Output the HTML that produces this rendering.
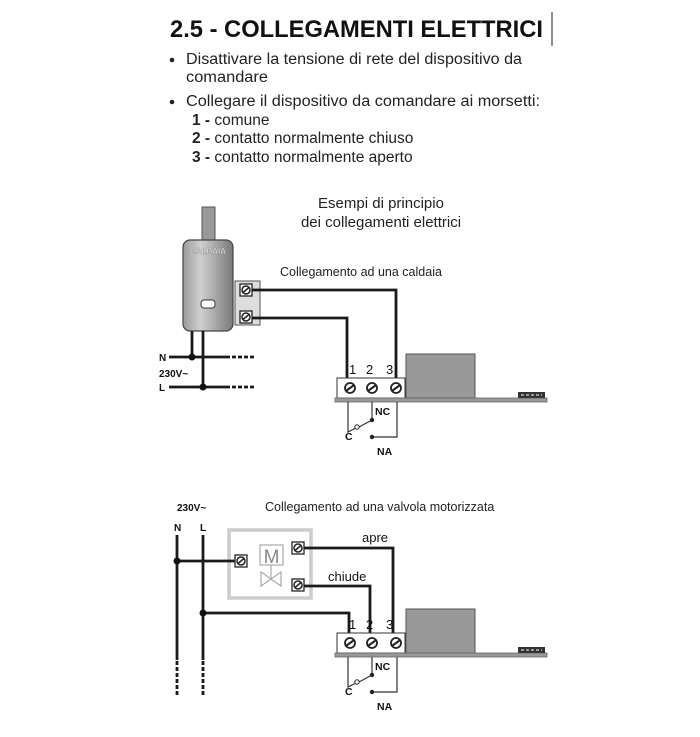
<!DOCTYPE html>
<html><head><meta charset="utf-8"><style>
html,body{margin:0;padding:0;background:#fff;}
svg{display:block;font-family:"Liberation Sans",Arial,sans-serif;}
</style></head><body>
<svg width="700" height="737" viewBox="0 0 700 737" xmlns="http://www.w3.org/2000/svg">
<defs>
<linearGradient id="boil" x1="0" x2="1" y1="0" y2="0">
<stop offset="0" stop-color="#9a9a9a"/><stop offset="0.35" stop-color="#d0d0d0"/><stop offset="1" stop-color="#7a7a7a"/>
</linearGradient>
<g id="scr"><rect x="-6" y="-6" width="12" height="12" fill="#fff" stroke="#222" stroke-width="1.3"/><circle r="4" fill="#fff" stroke="#222" stroke-width="1.5"/><line x1="-3" y1="2.5" x2="3" y2="-2.5" stroke="#222" stroke-width="1.5"/></g>
<g id="bscr"><circle r="5" fill="#fff" stroke="#222" stroke-width="1.8"/><line x1="-3.5" y1="2.5" x2="3.5" y2="-2.5" stroke="#222" stroke-width="2"/></g>
</defs>
<text x="170" y="37" font-size="24" font-weight="bold" fill="#111" textLength="373" lengthAdjust="spacingAndGlyphs">2.5 - COLLEGAMENTI ELETTRICI</text>
<line x1="552" y1="12" x2="552" y2="46" stroke="#444" stroke-width="1.2"/>
<g font-size="15.5" fill="#222">
<circle cx="172" cy="60" r="2.3" fill="#222"/>
<text x="186" y="64" textLength="336" lengthAdjust="spacingAndGlyphs">Disattivare la tensione di rete del dispositivo da</text>
<text x="186" y="82" textLength="82" lengthAdjust="spacingAndGlyphs">comandare</text>
<circle cx="172" cy="102" r="2.3" fill="#222"/>
<text x="186" y="106" textLength="354" lengthAdjust="spacingAndGlyphs">Collegare il dispositivo da comandare ai morsetti:</text>
<text x="192" y="125"><tspan font-weight="bold">1 -</tspan> comune</text>
<text x="192" y="143"><tspan font-weight="bold">2 -</tspan> contatto normalmente chiuso</text>
<text x="192" y="162"><tspan font-weight="bold">3 -</tspan> contatto normalmente aperto</text>
</g>
<text x="381" y="208" font-size="15" text-anchor="middle" fill="#222">Esempi di principio</text>
<text x="381" y="227" font-size="15" text-anchor="middle" fill="#222">dei collegamenti elettrici</text>
<text x="280" y="276" font-size="12.5" fill="#222">Collegamento ad una caldaia</text>

<rect x="202" y="207" width="13" height="38" fill="#999" stroke="#555"/>
<rect x="183" y="240" width="50" height="91" rx="7" fill="url(#boil)" stroke="#444" stroke-width="1.2"/>
<text x="208" y="254" font-size="8" font-weight="bold" text-anchor="middle" fill="#eee" stroke="#666" stroke-width="0.3">CALDAIA</text>
<rect x="201" y="300" width="14" height="8" rx="3" fill="#fff" stroke="#333"/>
<rect x="235" y="281" width="25" height="44" fill="#ddd" stroke="#555"/>
<use href="#scr" x="246" y="290"/><use href="#scr" x="246" y="317"/>
<g stroke="#1a1a1a" stroke-width="2.8" fill="none">
<polyline points="252,290 396,290 396,380"/>
<polyline points="252,318 347,318 347,380"/>
<line x1="192" y1="331" x2="192" y2="357"/>
<line x1="203" y1="331" x2="203" y2="387"/>
<line x1="169" y1="357" x2="230" y2="357"/>
<line x1="169" y1="387" x2="230" y2="387"/>
<line x1="232" y1="357" x2="254" y2="357" stroke-dasharray="4,2"/>
<line x1="232" y1="387" x2="254" y2="387" stroke-dasharray="4,2"/>
</g>
<circle cx="192" cy="357" r="3.5" fill="#111"/><circle cx="203" cy="387" r="3.5" fill="#111"/>
<g font-size="10" font-weight="bold" fill="#111">
<text x="159" y="361">N</text><text x="159" y="377">230V~</text><text x="159" y="391">L</text>
</g>

<g id="relay1">
<g font-size="13" fill="#111"><text x="349" y="374">1</text><text x="366" y="374">2</text><text x="386" y="374">3</text></g>
<rect x="337" y="378" width="68" height="20" fill="#fff" stroke="#333"/>
<use href="#bscr" x="350" y="388"/><use href="#bscr" x="372" y="388"/><use href="#bscr" x="396" y="388"/>
<rect x="406" y="354" width="69" height="44" fill="#999" stroke="#555"/>
<rect x="335" y="398" width="212" height="4" fill="#999" stroke="#666" stroke-width="0.8"/>
<rect x="518" y="392" width="27" height="6" fill="#333"/>
<line x1="521" y1="395" x2="542" y2="395" stroke="#fff" stroke-dasharray="3,2"/>
<g stroke="#333" stroke-width="1.2" fill="none">
<polyline points="348,402 348,432 356,428"/>
<polyline points="372,402 372,420"/>
<line x1="359" y1="427" x2="372" y2="420"/>
<polyline points="372,437 397,437 397,402"/>
</g>
<circle cx="357" cy="427" r="2.2" fill="#fff" stroke="#222"/>
<circle cx="372" cy="420" r="2.2" fill="#222"/><circle cx="372" cy="437" r="2.2" fill="#222"/>
<g font-size="10.5" font-weight="bold" fill="#111"><text x="375" y="415">NC</text><text x="345" y="440">C</text><text x="377" y="455">NA</text></g>
</g>

<text x="177" y="511" font-size="10" font-weight="bold" fill="#111">230V~</text>
<text x="265" y="511" font-size="12.5" fill="#222">Collegamento ad una valvola motorizzata</text>
<text x="174" y="531" font-size="10" font-weight="bold" fill="#111">N</text>
<text x="200" y="531" font-size="10" font-weight="bold" fill="#111">L</text>
<rect x="229" y="530" width="82" height="68" fill="#fff" stroke="#ccc" stroke-width="3.5"/>
<rect x="260" y="545" width="23" height="20" fill="#fff" stroke="#999"/>
<text x="271.5" y="563" font-size="19" text-anchor="middle" fill="#888">M</text>
<line x1="271" y1="565" x2="271" y2="578" stroke="#999"/>
<polygon points="261,572 271,579 261,586" fill="none" stroke="#999"/>
<polygon points="281,572 271,579 281,586" fill="none" stroke="#999"/>
<g stroke="#1a1a1a" stroke-width="2.8" fill="none">
<line x1="177" y1="535" x2="177" y2="660"/>
<line x1="203" y1="535" x2="203" y2="660"/>
<line x1="177" y1="661" x2="177" y2="697" stroke-dasharray="4,2"/>
<line x1="203" y1="661" x2="203" y2="697" stroke-dasharray="4,2"/>
<line x1="177" y1="561" x2="236" y2="561"/>
<polyline points="203,613 349,613 349,633"/>
<polyline points="304,548 393,548 393,633"/>
<polyline points="304,586 370,586 370,633"/>
</g>
<circle cx="177" cy="561" r="3.5" fill="#111"/><circle cx="203" cy="613" r="3.5" fill="#111"/>
<use href="#scr" x="241" y="561"/><use href="#scr" x="298" y="548"/><use href="#scr" x="298" y="585"/>
<text x="362" y="542" font-size="13" fill="#111">apre</text>
<text x="328" y="581" font-size="13" fill="#111">chiude</text>
<use href="#relay1" x="0" y="255"/>
</svg>
</body></html>
